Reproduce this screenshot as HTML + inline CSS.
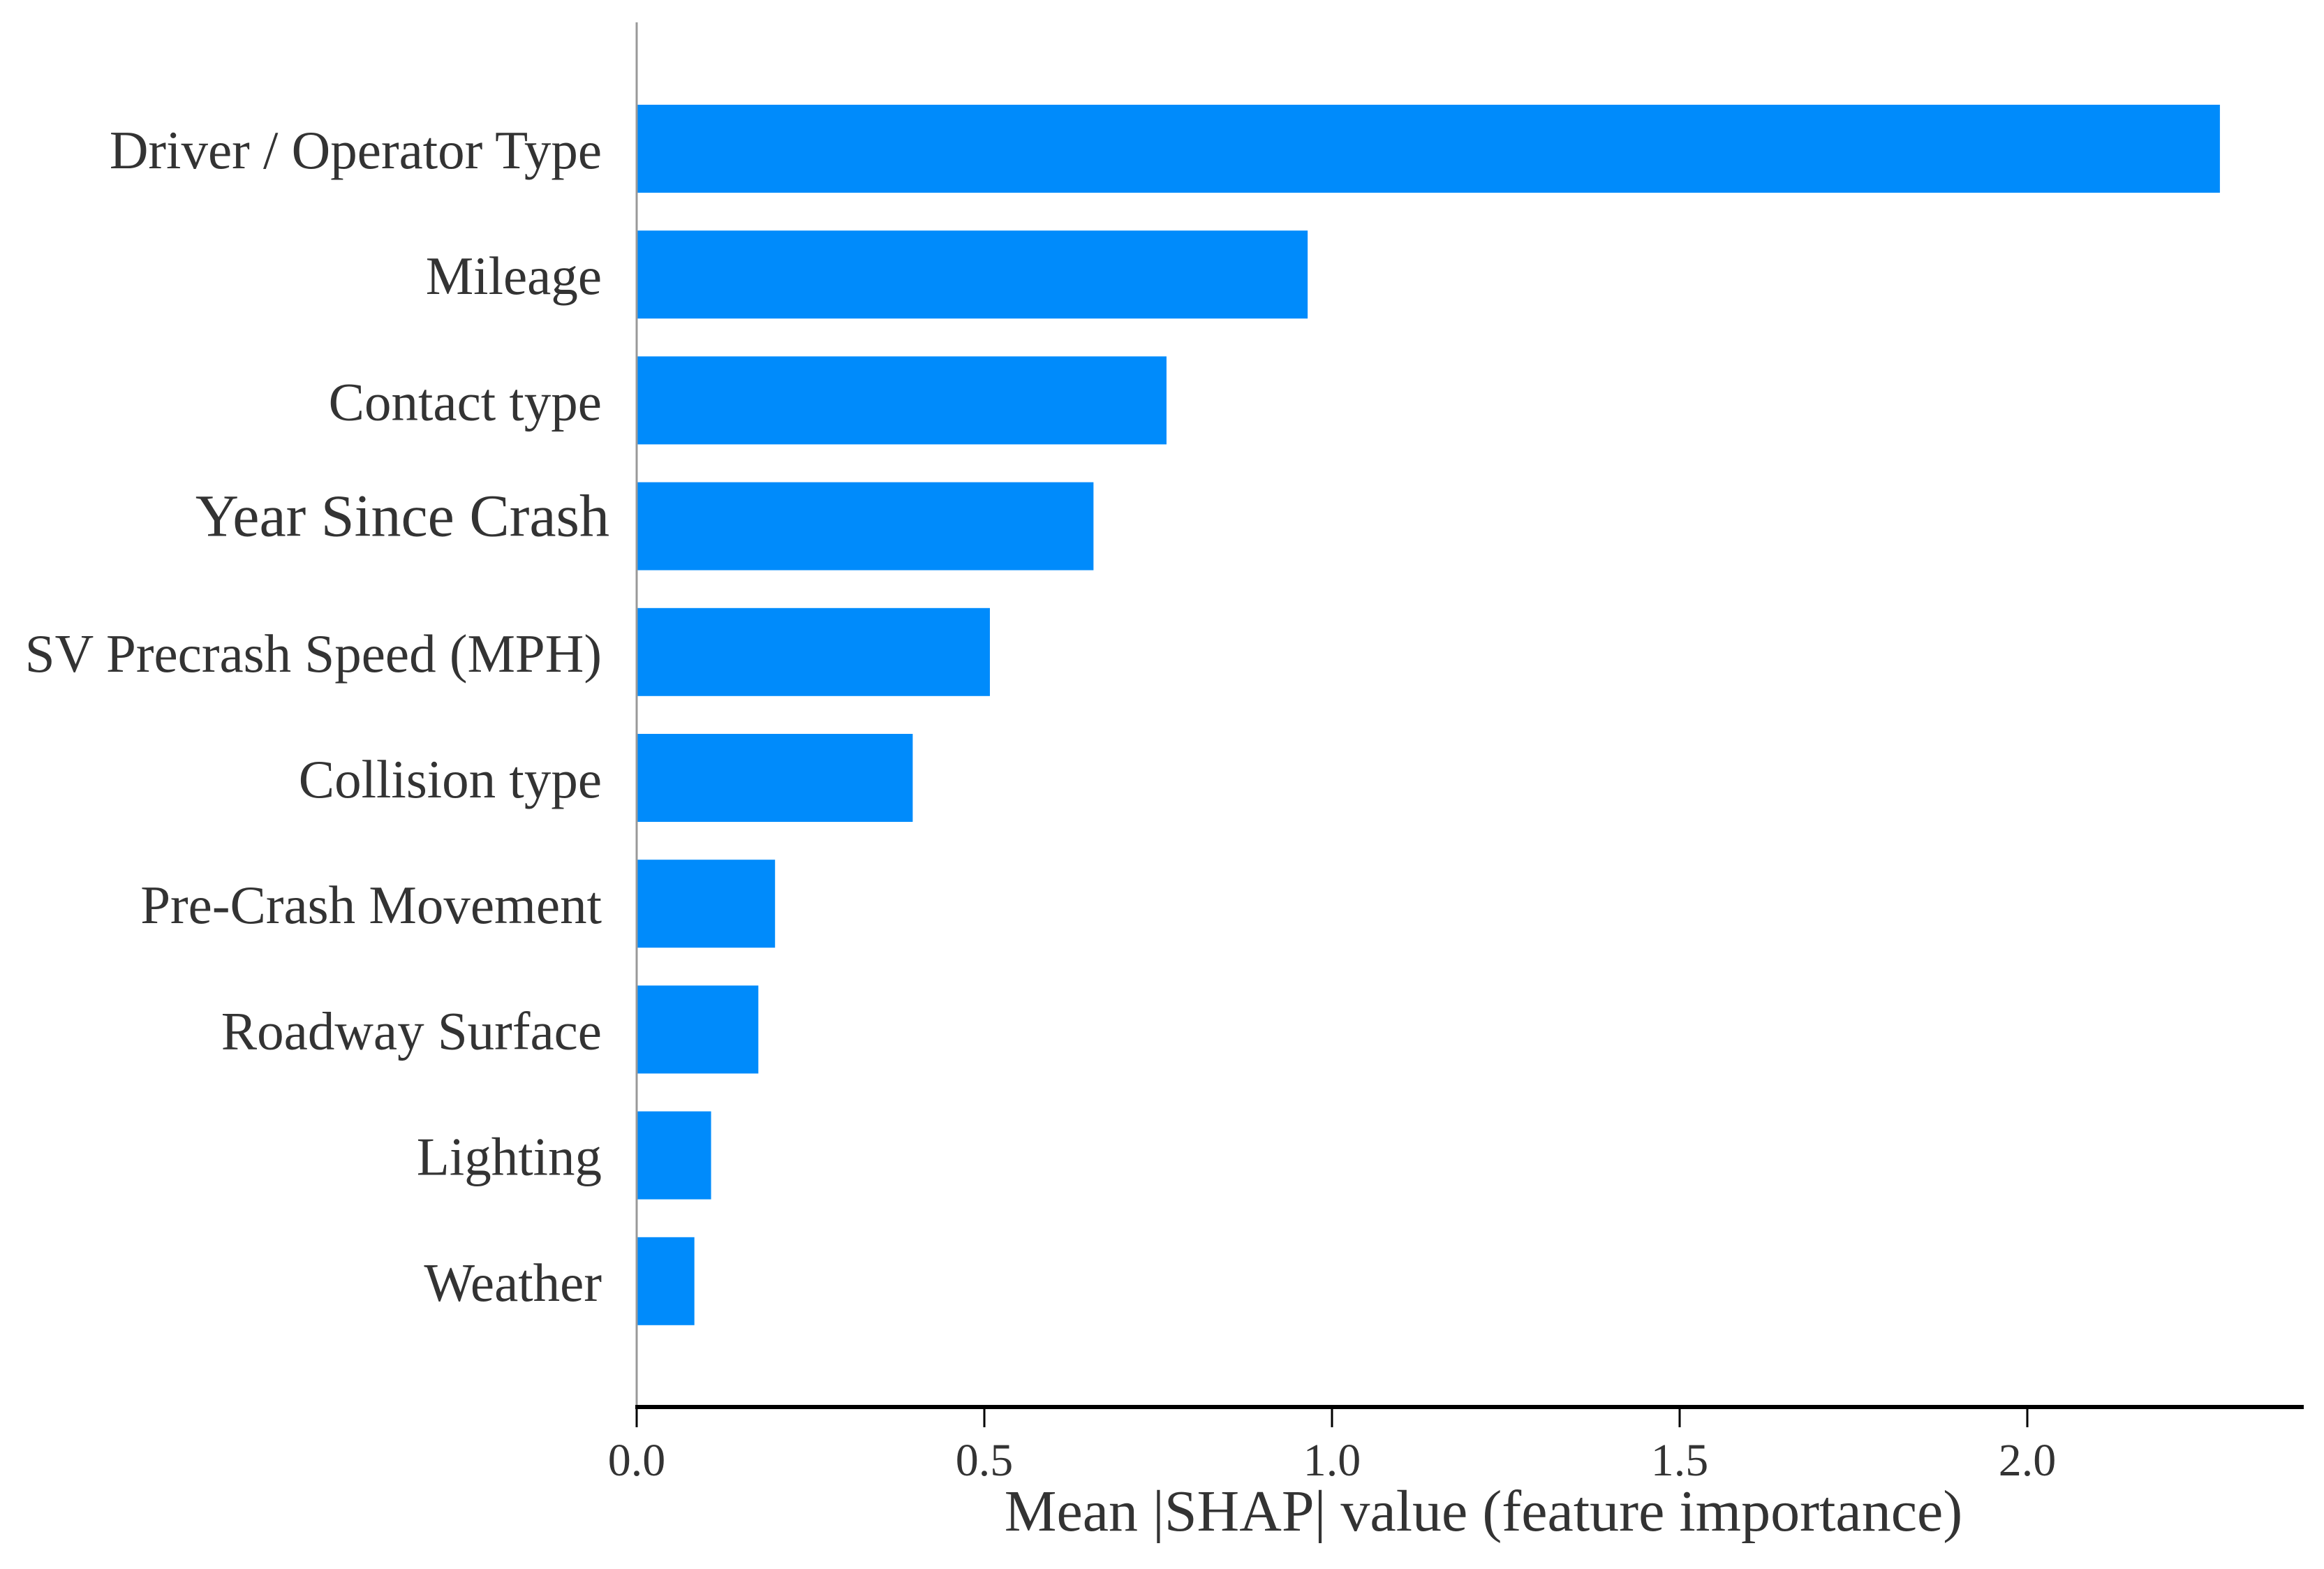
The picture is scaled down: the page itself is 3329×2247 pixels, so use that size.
<!DOCTYPE html>
<html><head><meta charset="utf-8"><style>
html,body{margin:0;padding:0;background:#fff;}
svg{display:block;}
text{font-family:"Liberation Serif",serif;fill:#333;}
</style></head><body>
<svg id="chart" width="3329" height="2247" viewBox="0 0 3329 2247" xmlns="http://www.w3.org/2000/svg">
<g id="bars"></g>
<g id="ylabels"></g>
<line x1="912" y1="32" x2="912" y2="2015" stroke="#999" stroke-width="3"/>
<line x1="910" y1="2015" x2="3300" y2="2015" stroke="#000" stroke-width="6"/>
<g id="xticks"></g>
<text x="2125" y="2192" font-size="84" text-anchor="middle">Mean |SHAP| value (feature importance)</text>
</svg>
<script>
const categories = ["Driver / Operator Type","Mileage","Contact type","Year Since Crash","SV Precrash Speed (MPH)","Collision type","Pre-Crash Movement","Roadway Surface","Lighting","Weather"];
const values = [2.277,0.965,0.762,0.657,0.508,0.397,0.199,0.175,0.107,0.083];
const tickValues = [0,0.5,1.0,1.5,2.0];
const tickLabels = ["0.0","0.5","1.0","1.5","2.0"];
const NS="http://www.w3.org/2000/svg";
const x0=912, xUnit=996, y0=213, pitch=180.2, barH=126;
function xScale(v){return x0+v*xUnit;}
function yScale(i){return y0+i*pitch;}
const gb=document.getElementById('bars'), gl=document.getElementById('ylabels'), gt=document.getElementById('xticks');
categories.forEach((c,i)=>{
  const r=document.createElementNS(NS,'rect');
  r.setAttribute('x',xScale(0));
  r.setAttribute('y',yScale(i)-barH/2);
  r.setAttribute('width',xScale(values[i])-xScale(0));
  r.setAttribute('height',barH);
  r.setAttribute('fill','#008bfb');
  
  
  gb.appendChild(r);
  const big = c==="Year Since Crash";
  const t=document.createElementNS(NS,'text');
  t.setAttribute('x',big?873:862);
  t.setAttribute('y',yScale(i)+(big?14:28));
  t.setAttribute('font-size',big?'86':'77');
  t.setAttribute('text-anchor','end');
  t.textContent=c;
  
  
  gl.appendChild(t);
});
tickValues.forEach((v,i)=>{
  const l=document.createElementNS(NS,'line');
  l.setAttribute('x1',xScale(v));l.setAttribute('x2',xScale(v));
  l.setAttribute('y1',2015);l.setAttribute('y2',2044);
  l.setAttribute('stroke','#000');l.setAttribute('stroke-width','3');
  
  
  gt.appendChild(l);
  const t=document.createElementNS(NS,'text');
  t.setAttribute('x',xScale(v));t.setAttribute('y',2113);
  t.setAttribute('font-size','66');t.setAttribute('text-anchor','middle');
  t.textContent=tickLabels[i];
  
  
  gt.appendChild(t);
});
</script>
</body></html>
